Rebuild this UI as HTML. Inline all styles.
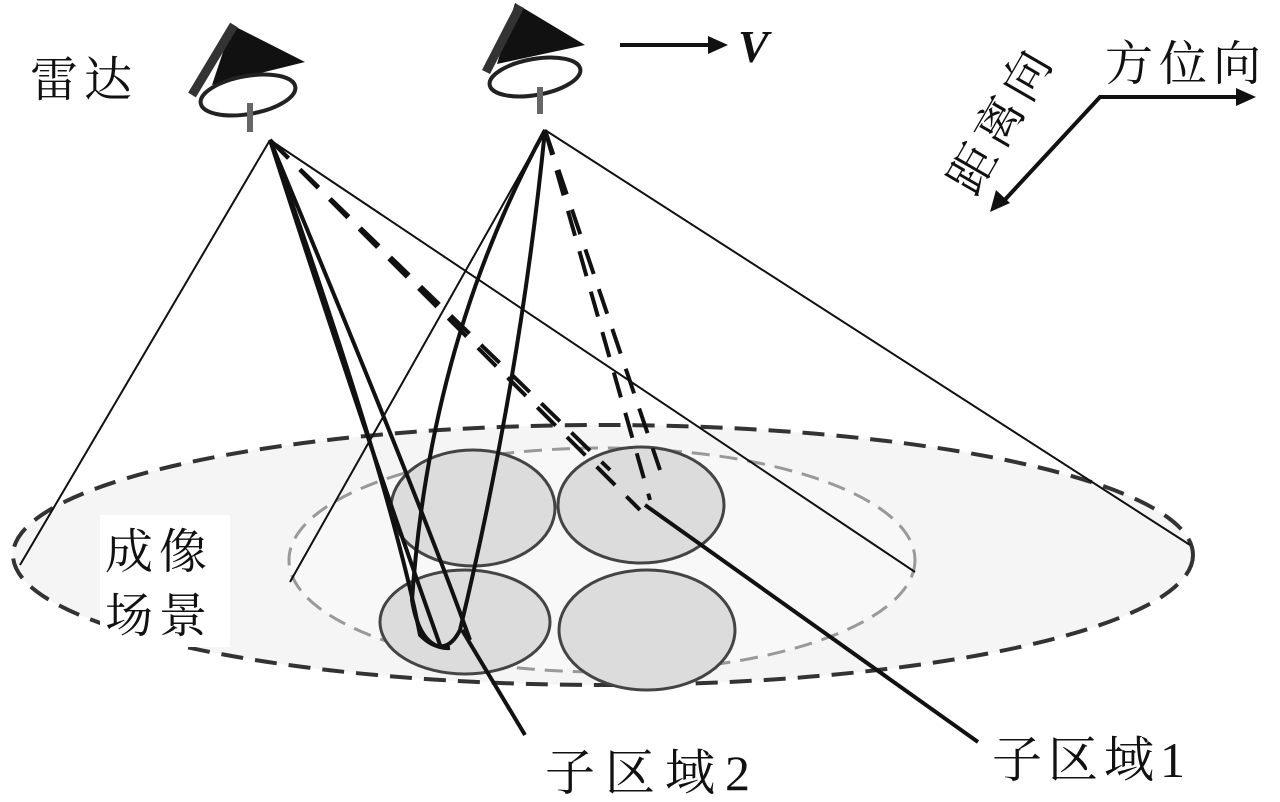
<!DOCTYPE html>
<html><head><meta charset="utf-8"><style>
html,body{margin:0;padding:0;background:#fff;}
svg{display:block}
text{font-family:"Liberation Serif","Noto Serif CJK SC",serif;fill:#111}
</style></head><body>
<svg width="1280" height="802" viewBox="0 0 1280 802" xmlns="http://www.w3.org/2000/svg">
<ellipse cx="603" cy="555" rx="590" ry="130" fill="#f5f5f5" stroke="#333" stroke-width="4" stroke-dasharray="22 12"/>
<ellipse cx="602" cy="560" rx="313" ry="112" fill="#f8f8f8" stroke="#999" stroke-width="3" stroke-dasharray="18 10"/>
<g fill="#dcdcdc" stroke="#444" stroke-width="3">
<ellipse cx="473" cy="508" rx="82" ry="58"/>
<ellipse cx="641" cy="505" rx="83" ry="58"/>
<ellipse cx="465" cy="622" rx="85" ry="52"/>
<ellipse cx="647" cy="630" rx="88" ry="60"/>
</g>
<rect x="100" y="515" width="130" height="132" fill="#fff"/>
<g stroke="#111" fill="none">
<line x1="270" y1="140" x2="20" y2="565" stroke-width="2"/>
<line x1="270" y1="140" x2="915" y2="572" stroke-width="2"/>
<line x1="545" y1="130" x2="1190" y2="545" stroke-width="2"/>
<line x1="545" y1="130" x2="290" y2="582" stroke-width="2"/>
<path d="M270 140 Q360 420 440 645" stroke-width="4"/>
<path d="M270 140 Q420 500 470 640" stroke-width="4"/>
<path d="M270 140 Q390 480 420 635 Q445 660 460 630 Q520 380 545 130" stroke-width="4"/>
<path d="M545 130 Q430 340 412 600 Q420 650 450 648" stroke-width="4"/>
<line x1="270" y1="140" x2="640" y2="510" stroke-width="4" stroke-dasharray="26 16"/>
<line x1="270" y1="140" x2="610" y2="470" stroke-width="4" stroke-dasharray="26 16"/>
<line x1="545" y1="130" x2="660" y2="470" stroke-width="4" stroke-dasharray="26 16"/>
<line x1="545" y1="130" x2="650" y2="500" stroke-width="4" stroke-dasharray="26 16"/>
<line x1="462" y1="630" x2="525" y2="735" stroke-width="4"/>
<line x1="645" y1="505" x2="978" y2="742" stroke-width="4"/>
<line x1="620" y1="45" x2="712" y2="45" stroke-width="4"/>
<polyline points="1000,205 1100,97 1240,97" stroke-width="4"/>
</g>
<polygon points="728,45 708,36 708,54" fill="#111"/>
<polygon points="1256,97 1236,88 1236,106" fill="#111"/>
<polygon points="990,212 996,190 1010,203" fill="#111"/>
<g>
<polygon points="232,25 305,62 212,85" fill="#111"/>
<line x1="234" y1="25" x2="192" y2="95" stroke="#333" stroke-width="9"/>
<ellipse cx="248" cy="95" rx="48" ry="19" fill="none" stroke="#222" stroke-width="4" transform="rotate(-10 248 95)"/>
<line x1="250" y1="103" x2="250" y2="132" stroke="#666" stroke-width="6"/>
<polygon points="515,3 585,45 497,64" fill="#111"/>
<line x1="520" y1="6" x2="486" y2="72" stroke="#333" stroke-width="9"/>
<ellipse cx="535" cy="77" rx="46" ry="18" fill="none" stroke="#222" stroke-width="4" transform="rotate(-10 535 77)"/>
<line x1="540" y1="87" x2="540" y2="114" stroke="#666" stroke-width="6"/>
</g>
<g font-size="48" letter-spacing="6">
<text x="30" y="96">雷达</text>
<text x="1105" y="80">方位向</text>
<text x="105" y="568">成像</text>
<text x="105" y="632">场景</text>
<text x="545" y="790" font-size="50" letter-spacing="10">子区域2</text>
<text x="992" y="777" font-size="50" letter-spacing="6">子区域1</text>
<text transform="translate(975,198) rotate(-60)">距离向</text>
</g>
<text x="738" y="62" font-size="46" font-weight="bold" font-style="italic">V</text>
</svg>
</body></html>
